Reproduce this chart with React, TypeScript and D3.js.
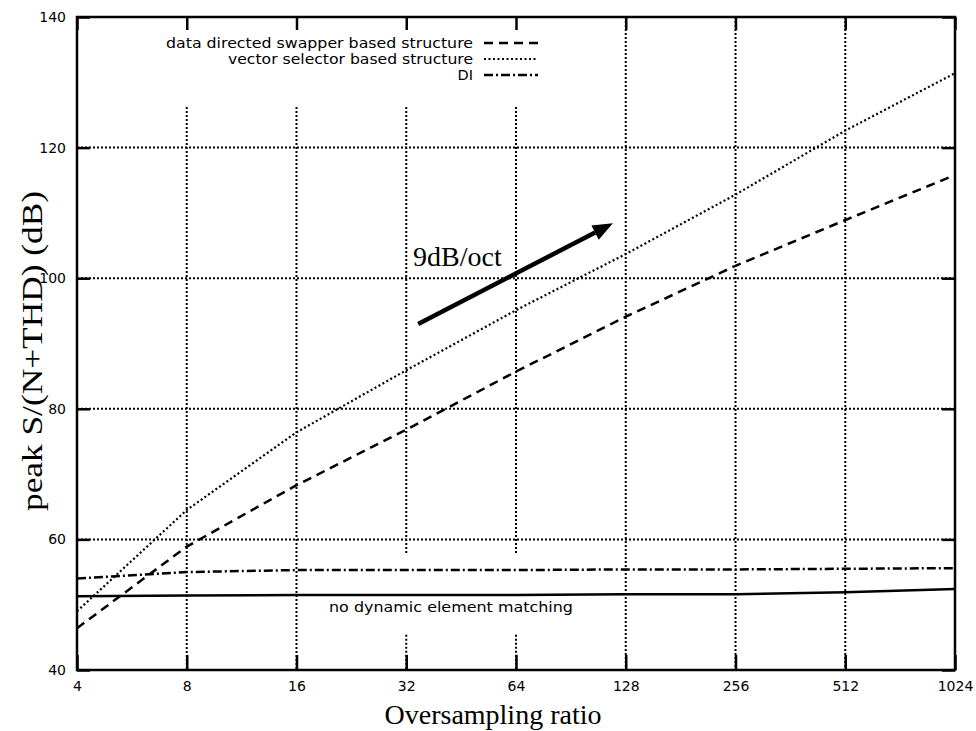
import React, { useEffect, useRef } from 'react';
import * as d3 from 'd3';

// oversampling ratios (x) and peak S/(N+THD) in dB
const ratios = [4, 8, 16, 32, 64, 128, 256, 512, 1024];
const swapperDb = [46.4, 58.9, 68.3, 76.8, 85.7, 94.1, 101.9, 108.9, 115.8];
const vectorDb = [49.0, 64.5, 76.4, 85.9, 95.1, 103.7, 112.8, 122.6, 131.4];
const diDb = [54.0, 55.0, 55.3, 55.3, 55.3, 55.4, 55.4, 55.5, 55.6];
const noDemDb = [51.3, 51.4, 51.5, 51.5, 51.5, 51.6, 51.6, 51.9, 52.4];

const yTicks = [40, 60, 80, 100, 120, 140];
const yGrid = [60, 80, 100, 120];

// vertical grid: ratios under the key start lower, two of them break round the label
const gridUnderKey = [8, 16, 32, 64];
const gridBroken = [32, 64];
const gridKeyTop = 126.2;
const gridGap = [45.4, 57.9];

// 9dB/oct arrow, in data units [ratio, dB]
const arrowFrom = [34.5, 93.0];
const arrowTo = [118, 108.4];
const arrowText = [33.4, 101.8];

const legendLabels = ['data directed swapper based structure', 'vector selector based structure', 'DI'];
const legendWidths = [307, 245, null];
const legendDash = ['9,6', '2,2.5', '9,3,2,3'];

const W = 976, H = 731;
const margin = { top: 17, right: 21, bottom: 61, left: 77 };
const sans = '"DejaVu Sans", sans-serif';
const serif = '"Liberation Serif", "Times New Roman", serif';

const drawChart = (el) => {
	const svg = d3.select(el);
	svg.selectAll('*').remove();

	const x = d3.scaleLog().base(2).domain([4, 1024]).range([margin.left, W - margin.right]);
	const y = d3.scaleLinear().domain([40, 140]).range([H - margin.bottom, margin.top]);
	const x0 = x.range()[0], x1 = x.range()[1], y0 = y.range()[0], y1 = y.range()[1];

	// grid
	const grid = svg.append('g').attr('stroke', '#000').attr('stroke-width', 2).attr('stroke-dasharray', '2,2').attr('fill', 'none');
	yGrid.forEach(v => {
		grid.append('line').attr('x1', x0).attr('x2', x1).attr('y1', y(v)).attr('y2', y(v));
	});
	ratios.slice(1, -1).forEach(r => {
		const top = gridUnderKey.includes(r) ? y(gridKeyTop) : y1;
		if (gridBroken.includes(r)) {
			grid.append('line').attr('x1', x(r)).attr('x2', x(r)).attr('y1', top).attr('y2', y(gridGap[1]));
			grid.append('line').attr('x1', x(r)).attr('x2', x(r)).attr('y1', y(gridGap[0])).attr('y2', y0);
		} else {
			grid.append('line').attr('x1', x(r)).attr('x2', x(r)).attr('y1', top).attr('y2', y0);
		}
	});

	// curves
	const line = d3.line().x(d => x(d[0])).y(d => y(d[1]));
	const series = [
		{ values: swapperDb, dash: '9,6', w: 2.5 },
		{ values: vectorDb, dash: '2,2.5', w: 2.2 },
		{ values: diDb, dash: '9,3,2,3', w: 2.5 },
		{ values: noDemDb, dash: null, w: 2.5 },
	];
	series.forEach(s => {
		svg.append('path')
			.datum(ratios.map((r, i) => [r, s.values[i]]))
			.attr('d', line)
			.attr('fill', 'none')
			.attr('stroke', '#000')
			.attr('stroke-width', s.w)
			.attr('stroke-dasharray', s.dash);
	});

	// axes (ticks point inward)
	const fmt = d3.format('d');
	const bottom = svg.append('g').attr('transform', `translate(0,${y0})`)
		.call(d3.axisBottom(x).tickValues(ratios).tickFormat(fmt).tickSize(-15).tickPadding(11));
	const left = svg.append('g').attr('transform', `translate(${x0},0)`)
		.call(d3.axisLeft(y).tickValues(yTicks).tickFormat(fmt).tickSize(-13).tickPadding(11));
	const top = svg.append('g').attr('transform', `translate(0,${y1})`)
		.call(d3.axisTop(x).tickValues(ratios).tickFormat(() => '').tickSize(-13));
	const right = svg.append('g').attr('transform', `translate(${x1},0)`)
		.call(d3.axisRight(y).tickValues(yTicks).tickFormat(() => '').tickSize(-13));
	[bottom, left, top, right].forEach(g => {
		g.select('.domain').remove();
		g.selectAll('line').attr('stroke-width', 2.5);
		g.selectAll('text').attr('font-family', sans).attr('font-size', 14).attr('fill', '#000');
	});

	svg.append('rect')
		.attr('x', x0).attr('y', y1).attr('width', x1 - x0).attr('height', y0 - y1)
		.attr('fill', 'none').attr('stroke', '#000').attr('stroke-width', 2.5);

	// axis titles
	svg.append('text')
		.text('Oversampling ratio')
		.attr('x', 493).attr('y', 724)
		.attr('text-anchor', 'middle')
		.attr('font-family', serif).attr('font-size', 28);

	svg.append('text')
		.text('peak S/(N+THD) (dB)')
		.attr('transform', 'translate(42,351) rotate(-90)')
		.attr('text-anchor', 'middle')
		.attr('textLength', 320).attr('lengthAdjust', 'spacingAndGlyphs')
		.attr('font-family', serif).attr('font-size', 30);

	// legend
	legendLabels.forEach((lab, i) => {
		const ly = 48 + i * 16;
		const t = svg.append('text')
			.text(lab)
			.attr('x', 473).attr('y', ly)
			.attr('text-anchor', 'end')
			.attr('font-family', sans).attr('font-size', 14.5);
		if (legendWidths[i]) t.attr('textLength', legendWidths[i]).attr('lengthAdjust', 'spacingAndGlyphs');
		svg.append('line')
			.attr('x1', 484).attr('x2', 538).attr('y1', ly - 5).attr('y2', ly - 5)
			.attr('stroke', '#000').attr('stroke-width', i === 1 ? 2.2 : 2.5)
			.attr('stroke-dasharray', legendDash[i]);
	});

	svg.append('text')
		.text('no dynamic element matching')
		.attr('x', 329).attr('y', 612)
		.attr('textLength', 244).attr('lengthAdjust', 'spacingAndGlyphs')
		.attr('font-family', sans).attr('font-size', 14.5);

	// slope arrow
	const ax1 = x(arrowFrom[0]), ay1 = y(arrowFrom[1]);
	const ax2 = x(arrowTo[0]), ay2 = y(arrowTo[1]);
	const ang = Math.atan2(ay2 - ay1, ax2 - ax1);
	const headLen = 20, headW = 8;
	const bx = ax2 - headLen * Math.cos(ang), by = ay2 - headLen * Math.sin(ang);
	svg.append('line')
		.attr('x1', ax1).attr('y1', ay1).attr('x2', bx).attr('y2', by)
		.attr('stroke', '#000').attr('stroke-width', 4.5);
	svg.append('path')
		.attr('d', `M${ax2},${ay2}L${bx - headW * Math.sin(ang)},${by + headW * Math.cos(ang)}L${bx + headW * Math.sin(ang)},${by - headW * Math.cos(ang)}Z`)
		.attr('fill', '#000');

	svg.append('text')
		.text('9dB/oct')
		.attr('x', x(arrowText[0])).attr('y', y(arrowText[1]))
		.attr('font-family', serif).attr('font-size', 28);
};

const App = () => {
	const ref = useRef(null);
	useEffect(() => { drawChart(ref.current); }, []);
	return (
		<svg ref={ref} width={W} height={H}
			style={{ position: 'absolute', left: 0, top: 0, background: '#fff' }} />
	);
};

export default App;
